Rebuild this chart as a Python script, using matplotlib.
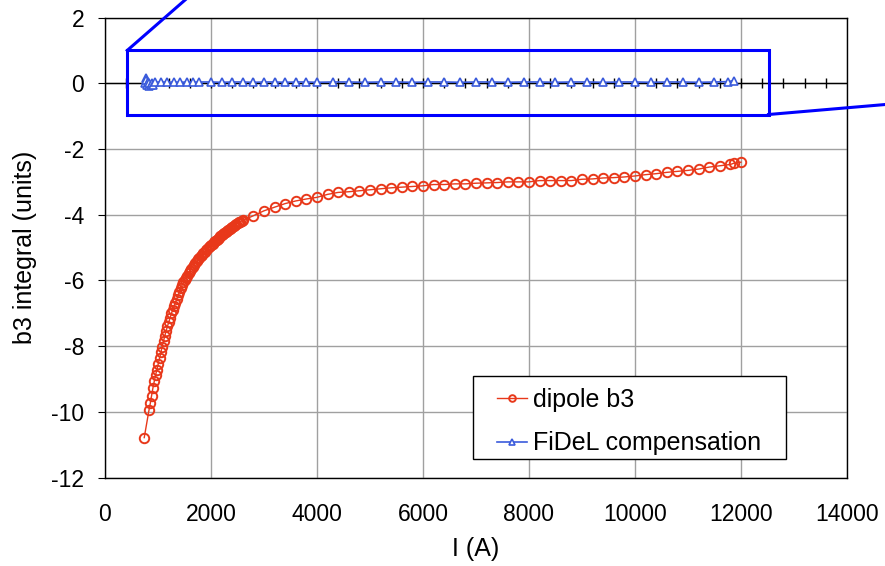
import numpy as np
import matplotlib
matplotlib.use("Agg")
import matplotlib.pyplot as plt
from matplotlib.patches import Rectangle

plt.rcParams['font.family'] = ['Liberation Sans', 'DejaVu Sans']
plt.rcParams['axes.unicode_minus'] = False

# dipole b3 integral vs current
# dense ramp section
dip_I = [741, 830, 855, 880, 905, 930, 955, 980, 1005, 1030, 1055, 1080,
         1105, 1130, 1155, 1180, 1205, 1230, 1255, 1280, 1305, 1330, 1355,
         1380, 1405, 1430, 1455, 1480, 1505, 1530, 1555, 1580, 1605, 1630,
         1655, 1680, 1705, 1730, 1755, 1780, 1805, 1830, 1855, 1880, 1905,
         1930, 1955, 1980, 2005, 2030, 2055, 2080, 2105, 2130, 2155, 2180,
         2205, 2230, 2255, 2280, 2305, 2330, 2355, 2380, 2405, 2430, 2455,
         2480, 2505, 2530, 2555, 2580,
         # plateau steps
         2600, 2800, 3000, 3200, 3400, 3600, 3800, 4000, 4200, 4400, 4600,
         4800, 5000, 5200, 5400, 5600, 5800, 6000, 6200, 6400, 6600, 6800,
         7000, 7200, 7400, 7600, 7800, 8000, 8200, 8400, 8600, 8800, 9000,
         9200, 9400, 9600, 9800, 10000, 10200, 10400, 10600, 10800, 11000,
         11200, 11400, 11600, 11800, 11870, 12000]
dip_b3 = [-10.78, -9.95, -9.74, -9.50, -9.27, -9.07, -8.88, -8.71, -8.54,
          -8.37, -8.19, -8.01, -7.84, -7.68, -7.53, -7.39, -7.26, -7.13,
          -7.00, -6.89, -6.78, -6.67, -6.56, -6.45, -6.35, -6.24, -6.14,
          -6.06, -5.98, -5.91, -5.85, -5.78, -5.72, -5.65, -5.59, -5.53,
          -5.47, -5.42, -5.36, -5.31, -5.26, -5.21, -5.16, -5.12, -5.08,
          -5.03, -4.99, -4.95, -4.91, -4.88, -4.84, -4.80, -4.77, -4.73,
          -4.70, -4.66, -4.63, -4.59, -4.56, -4.52, -4.49, -4.46, -4.43,
          -4.40, -4.37, -4.34, -4.31, -4.28, -4.26, -4.23, -4.21, -4.19,
          -4.17, -4.03, -3.88, -3.77, -3.66, -3.58, -3.52, -3.47, -3.38,
          -3.32, -3.30, -3.27, -3.24, -3.21, -3.18, -3.16, -3.14, -3.12,
          -3.08, -3.08, -3.06, -3.06, -3.04, -3.03, -3.02, -3.00, -3.00,
          -3.00, -2.96, -2.96, -2.96, -2.96, -2.92, -2.91, -2.88, -2.87,
          -2.85, -2.82, -2.78, -2.75, -2.71, -2.68, -2.65, -2.61, -2.55,
          -2.51, -2.47, -2.43, -2.40]

# FiDeL compensation residual
fid_I = [750, 765, 780, 795, 810, 825, 840, 860, 880, 900,
         940, 1060, 1180, 1300, 1420, 1540, 1660, 1780,
         2000, 2200, 2400, 2600, 2800, 3000, 3200, 3400, 3600, 3800, 4000,
         4300, 4600, 4900, 5200, 5500, 5800, 6100, 6400, 6700, 7000,
         7300, 7600, 7900, 8200, 8500, 8800, 9100, 9400, 9700, 10000,
         10300, 10600, 10900, 11200, 11500, 11750, 11860]
fid_b3 = [0.0, 0.15, 0.10, -0.05, 0.05, -0.08, 0.02, -0.05, 0.0, -0.04,
          0.03, 0.04, 0.03, 0.04, 0.03, 0.04, 0.03, 0.04,
          0.04, 0.03, 0.04, 0.04, 0.03, 0.04, 0.04, 0.03, 0.04, 0.04, 0.03,
          0.04, 0.04, 0.03, 0.04, 0.04, 0.03, 0.04, 0.04, 0.03, 0.04,
          0.04, 0.03, 0.04, 0.04, 0.03, 0.04, 0.04, 0.03, 0.04, 0.04,
          0.03, 0.04, 0.04, 0.03, 0.04, 0.05, 0.08]

red = '#E8381A'
blue = '#3B5BDB'

fig = plt.figure(figsize=(8.85, 5.66), dpi=100)
ax = fig.add_axes([0.1186, 0.156, 0.8384, 0.813])

ax.set_xlim(0, 14000)
ax.set_ylim(-12, 2)
ax.set_xticks(np.arange(0, 14001, 2000))
ax.set_yticks(np.arange(-12, 2.1, 2))
ax.grid(True, color='#a0a0a0', lw=1)
ax.set_axisbelow(True)
for s in ax.spines.values():
    s.set_color('black')
    s.set_linewidth(1)

# zero line with cross ticks
ax.axhline(0, color='black', lw=1, zorder=1.5)
zt = np.arange(400, 14000, 400)
ax.plot(zt, np.zeros(len(zt)), '|', color='black', ms=6.5, mew=1,
        zorder=1.5)

ax.plot(dip_I, dip_b3, '-o', color=red, lw=1, ms=6.8, mfc='none', mec=red,
        mew=1.4, label='dipole b3', zorder=3)
ax.plot(fid_I, fid_b3, '-^', color=blue, lw=1.2, ms=6, mfc='white',
        mec=blue, mew=1.2, label='FiDeL compensation', zorder=4)

# zoom box and lines
ax.add_patch(Rectangle((420, -0.95), 12100, 1.95, fill=False,
                       ec='#0000FF', lw=2.2, zorder=5))
ax.plot([420, 1700], [1.0, 2.8], color='#0000FF', lw=2.2, clip_on=False,
        zorder=5)
ax.plot([12520, 15200], [-0.95, -0.58], color='#0000FF', lw=2.2,
        clip_on=False, zorder=5)

ax.tick_params(axis='x', length=0, pad=18, labelsize=16.5)
ax.tick_params(axis='y', length=5, direction='out', pad=10, labelsize=16.5)
ax.set_xlabel('I (A)', fontsize=18, labelpad=8)
ax.set_ylabel('b3 integral (units)', fontsize=18, labelpad=10)

# legend box drawn by hand, text clipped at its bottom edge
box = Rectangle((0.496, 0.0406), 0.422, 0.1804, transform=ax.transAxes,
                fc='white', ec='black', lw=1, zorder=6)
ax.add_patch(box)
leg = ax.legend(loc='upper left', bbox_to_anchor=(0.528, 0.195),
                fontsize=18, frameon=False, handlelength=1.2,
                handletextpad=0.25, labelspacing=0.78, borderpad=0,
                borderaxespad=0, markerscale=0.7)
leg.set_zorder(7)
for t in leg.get_texts():
    t.set_clip_path(box)

fig.savefig('out.png', dpi=100)
